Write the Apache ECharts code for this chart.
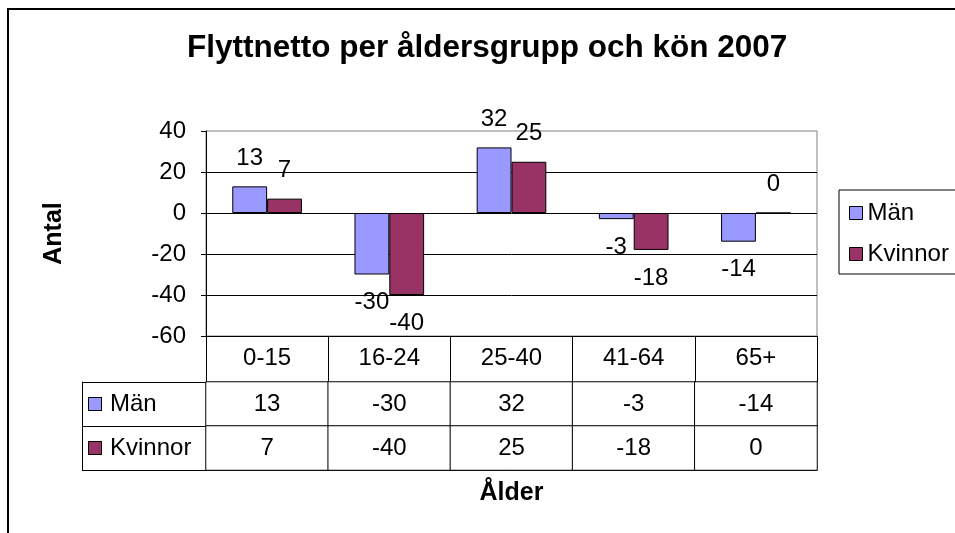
<!DOCTYPE html>
<html>
<head>
<meta charset="utf-8">
<script src="https://cdn.jsdelivr.net/npm/echarts@6/dist/echarts.min.js"></script>
<style>html,body{margin:0;padding:0;background:#fff}#c{width:955px;height:533px}</style>
</head>
<body>
<div id="c"></div>
<script>
const categories = ['0-15', '16-24', '25-40', '41-64', '65+'];
const seriesNames = ['Män', 'Kvinnor'];
const men = [13, -30, 32, -3, -14];
const women = [7, -40, 25, -18, 0];
const yTicks = { min: -60, max: 40, interval: 20 };

const colors = ['#9999FF', '#993366'];
const FONT = 'Liberation Sans, Arial, sans-serif';

function barData(vals) {
  return vals.map(v => ({ value: v, label: { position: v >= 0 ? 'top' : 'bottom' } }));
}
const tableData = [];
categories.forEach((c, i) => {
  tableData.push([i, 0, men[i]]);
  tableData.push([i, 1, women[i]]);
});

const chart = echarts.init(document.getElementById('c'), null, { renderer: 'canvas' });
chart.setOption({
  animation: false,
  backgroundColor: '#fff',
  textStyle: { fontFamily: FONT, color: '#000' },
  title: {
    text: 'Flyttnetto per åldersgrupp och kön 2007',
    left: 182, top: 27, padding: [5, 5, 5, 5],
    textStyle: { fontSize: 31.5, fontWeight: 'bold', color: '#000', fontFamily: FONT }
  },
  legend: {
    data: seriesNames,
    orient: 'vertical',
    left: 839, top: 190,
    padding: [11, 40, 8, 10],
    itemGap: 17,
    itemWidth: 13, itemHeight: 13,
    icon: 'rect',
    borderColor: '#000', borderWidth: 1,
    itemStyle: { borderColor: '#000', borderWidth: 1 },
    textStyle: { fontSize: 24, color: '#000', fontFamily: FONT }
  },
  graphic: [{
    type: 'rect', silent: true,
    shape: { x: 8, y: 9, width: 1000, height: 600 },
    style: { fill: 'none', stroke: '#000', lineWidth: 2 }
  }],
  grid: [
    { left: 206, top: 131, width: 611, height: 205, show: true, borderColor: '#808080', borderWidth: 1, backgroundColor: 'transparent' },
    { left: 206, top: 382, width: 611, height: 88 }
  ],
  xAxis: [
    {
      type: 'category', gridIndex: 0, data: categories, position: 'bottom',
      axisLine: { onZero: false, lineStyle: { color: '#000', width: 1 } },
      axisTick: { show: true, length: 46, interval: 0, lineStyle: { color: '#000' } },
      axisLabel: { interval: 0, fontSize: 24, color: '#000', margin: 10, fontFamily: FONT },
      splitLine: { show: false }
    },
    {
      type: 'category', gridIndex: 1, data: categories, position: 'bottom',
      axisLine: { show: true, onZero: false, lineStyle: { color: '#000' } },
      axisTick: { show: false }, axisLabel: { show: false },
      name: 'Ålder', nameLocation: 'middle', nameGap: 11,
      nameTextStyle: { fontSize: 25, fontWeight: 'bold', color: '#000', fontFamily: FONT }
    }
  ],
  yAxis: [
    {
      type: 'value', gridIndex: 0, min: yTicks.min, max: yTicks.max, interval: yTicks.interval,
      axisLine: { show: true, onZero: false, lineStyle: { color: '#000' } },
      axisTick: { show: true, length: 5, lineStyle: { color: '#000' } },
      axisLabel: { fontSize: 24, color: '#000', margin: 20, fontFamily: FONT },
      splitLine: { show: true, showMaxLine: false, lineStyle: { color: '#000', width: 1 } },
      name: 'Antal', nameLocation: 'middle', nameGap: 139, nameRotate: 90,
      nameTextStyle: { fontSize: 25, fontWeight: 'bold', color: '#000', fontFamily: FONT }
    },
    {
      type: 'category', gridIndex: 1, data: seriesNames, inverse: true, position: 'left',
      axisLine: { show: true, onZero: false, lineStyle: { color: '#000' } },
      axisTick: { show: true, length: 124, interval: 0, lineStyle: { color: '#000' } },
      axisLabel: {
        interval: 0, align: 'left', margin: 117, fontFamily: FONT,
        formatter: (v) => (v === seriesNames[0] ? '{m|}' : '{k|}') + '{t|' + v + '}',
        rich: {
          m: { width: 12, height: 12, backgroundColor: colors[0], borderColor: '#000', borderWidth: 1 },
          k: { width: 12, height: 12, backgroundColor: colors[1], borderColor: '#000', borderWidth: 1 },
          t: { fontSize: 24, color: '#000', padding: [0, 0, 0, 9], fontFamily: FONT }
        }
      },
      splitLine: { show: false }
    },
    {
      type: 'category', gridIndex: 1, data: seriesNames, inverse: true, position: 'left', offset: 124,
      axisLine: { show: true, onZero: false, lineStyle: { color: '#000' } },
      axisTick: { show: false }, axisLabel: { show: false }, splitLine: { show: false }
    }
  ],
  series: [
    {
      name: seriesNames[0], type: 'bar', xAxisIndex: 0, yAxisIndex: 0,
      data: barData(men), barGap: '0%', barCategoryGap: '43%',
      itemStyle: { color: colors[0], borderColor: '#000', borderWidth: 1 },
      label: { show: true, fontSize: 24, color: '#000', distance: 16, fontFamily: FONT }
    },
    {
      name: seriesNames[1], type: 'bar', xAxisIndex: 0, yAxisIndex: 0,
      data: barData(women), barGap: '0%', barCategoryGap: '43%',
      itemStyle: { color: colors[1], borderColor: '#000', borderWidth: 1 },
      label: { show: true, fontSize: 24, color: '#000', distance: 16, fontFamily: FONT }
    },
    {
      type: 'heatmap', xAxisIndex: 1, yAxisIndex: 1,
      data: tableData,
      itemStyle: { color: '#fff', borderColor: '#000', borderWidth: 1 },
      label: { show: true, fontSize: 24, color: '#000', fontFamily: FONT, formatter: p => String(p.value[2]) },
      emphasis: { disabled: true }
    }
  ]
});
</script>
</body>
</html>
